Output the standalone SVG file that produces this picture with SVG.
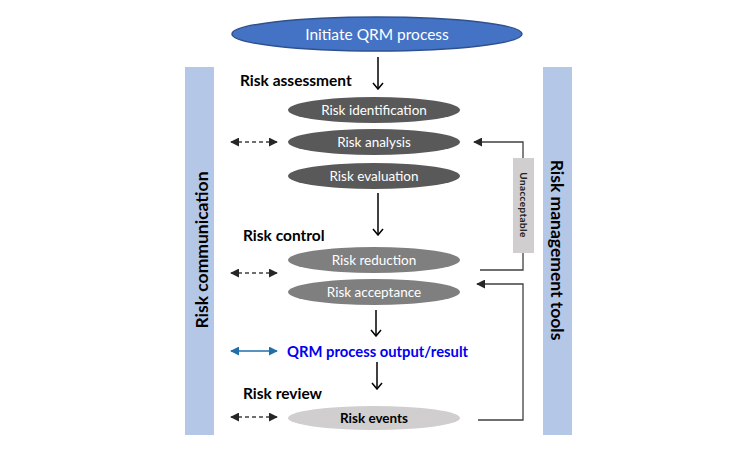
<svg xmlns="http://www.w3.org/2000/svg" width="750" height="450" viewBox="0 0 750 450">
<style>
.bar{fill:#B4C7E7}
.lbl{font-family:Lato,"Liberation Sans",sans-serif;font-weight:bold;font-size:15.5px;fill:#000}
.side{font-family:Lato,"Liberation Sans",sans-serif;font-weight:bold;font-size:17.5px;fill:#000;text-anchor:middle}
.et{font-family:Lato,"Liberation Sans",sans-serif;font-size:13.5px;fill:#fff;text-anchor:middle}
.down{stroke:#000;stroke-width:1.5;fill:none}
.conn{stroke:#404040;stroke-width:1.3;fill:none}
.dash{stroke:#404040;stroke-width:1.3;stroke-dasharray:4,3;fill:none}
</style>
<defs>
<marker id="tri2" viewBox="0 0 10 10" refX="9" refY="5" markerWidth="9" markerHeight="9" orient="auto-start-reverse" markerUnits="userSpaceOnUse">
<path d="M0,0 L10,5 L0,10 Z" fill="#262626"/>
</marker>
<marker id="blu" viewBox="0 0 10 10" refX="9" refY="5" markerWidth="9" markerHeight="9" orient="auto-start-reverse" markerUnits="userSpaceOnUse">
<path d="M0,0 L10,5 L0,10 Z" fill="#1F6FA8"/>
</marker>
<marker id="vee" viewBox="0 0 12 12" refX="6" refY="11" markerWidth="12" markerHeight="12" orient="0" markerUnits="userSpaceOnUse">
<path d="M1,5 L6,11 L11,5" stroke="#000" stroke-width="1.5" fill="none"/>
</marker>
</defs>

<g id="risk-communication">
<rect class="bar" x="185" y="67" width="29" height="368"/>
<text class="side" transform="translate(208,250) rotate(-90)">Risk communication</text>
</g>
<g id="risk-management-tools">
<rect class="bar" x="543" y="67" width="29" height="368"/>
<text class="side" transform="translate(551,250) rotate(90)">Risk management tools</text>
</g>

<g id="initiate">
<ellipse cx="377" cy="34" rx="145" ry="17" fill="#4472C4" stroke="#2F528F" stroke-width="1.5"/>
<text class="et" x="377" y="39.5" style="font-size:15.5px">Initiate QRM process</text>
</g>

<g id="label-assessment"><text class="lbl" x="240" y="86">Risk assessment</text></g>
<g id="label-control"><text class="lbl" x="243" y="241">Risk control</text></g>
<g id="label-review"><text class="lbl" x="243" y="399">Risk review</text></g>

<g id="risk-identification">
<ellipse cx="374" cy="110" rx="86" ry="13" fill="#595959"/>
<text class="et" x="374" y="115">Risk identification</text>
</g>
<g id="risk-analysis">
<ellipse cx="374" cy="142" rx="86" ry="13" fill="#595959"/>
<text class="et" x="374" y="147">Risk analysis</text>
</g>
<g id="risk-evaluation">
<ellipse cx="374" cy="176" rx="86" ry="13" fill="#595959"/>
<text class="et" x="374" y="181">Risk evaluation</text>
</g>
<g id="risk-reduction">
<ellipse cx="374" cy="260" rx="86" ry="13" fill="#7F7F7F"/>
<text class="et" x="374" y="265">Risk reduction</text>
</g>
<g id="risk-acceptance">
<ellipse cx="374" cy="292" rx="86" ry="13" fill="#7F7F7F"/>
<text class="et" x="374" y="297">Risk acceptance</text>
</g>
<g id="qrm-output">
<text class="lbl" x="287" y="357" style="font-size:14.8px;fill:#0000F0">QRM process output/result</text>
</g>
<g id="risk-events">
<ellipse cx="374" cy="418" rx="86" ry="12" fill="#D0CECE"/>
<text class="et" x="374" y="423" style="fill:#000;font-weight:bold">Risk events</text>
</g>
<g id="unacceptable">
<rect x="513" y="158" width="21" height="95" fill="#D0CECE"/>
<text transform="translate(520,205) rotate(90)" text-anchor="middle" style="font-family:Lato,'Liberation Sans',sans-serif;font-size:10px;font-weight:bold;fill:#222;letter-spacing:0.4px">Unacceptable</text>
</g>

<g id="connectors">
<line class="down" x1="378" y1="57" x2="378" y2="89" marker-end="url(#vee)"/>
<line class="down" x1="378" y1="193" x2="378" y2="235" marker-end="url(#vee)"/>
<line class="down" x1="376" y1="310" x2="376" y2="336" marker-end="url(#vee)"/>
<line class="down" x1="377" y1="362" x2="377" y2="389" marker-end="url(#vee)"/>
<line class="dash" x1="231" y1="142" x2="277" y2="142" marker-start="url(#tri2)" marker-end="url(#tri2)"/>
<line class="dash" x1="231" y1="273" x2="277" y2="273" marker-start="url(#tri2)" marker-end="url(#tri2)"/>
<line class="dash" x1="231" y1="417" x2="277" y2="417" marker-start="url(#tri2)" marker-end="url(#tri2)"/>
<line x1="231" y1="351" x2="277" y2="351" stroke="#1F6FA8" stroke-width="1.5" marker-start="url(#blu)" marker-end="url(#blu)"/>
<polyline class="conn" points="480,270 523,270 523,253"/>
<polyline class="conn" points="523,158 523,142 474,142" marker-end="url(#tri2)"/>
<polyline class="conn" points="478,420 523,420 523,284 477,284" marker-end="url(#tri2)"/>
</g>
</svg>
